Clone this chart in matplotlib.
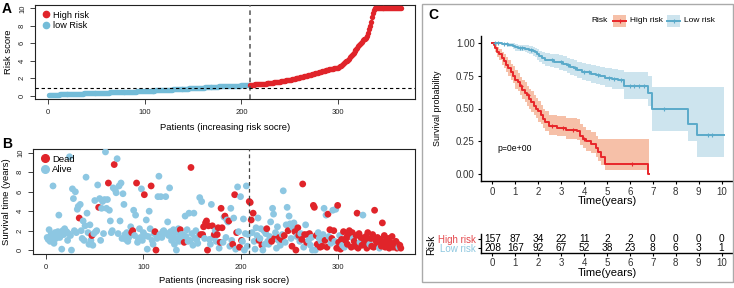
import numpy as np
import matplotlib
matplotlib.use('Agg')
import matplotlib.pyplot as plt
from matplotlib.patches import Rectangle
from matplotlib.lines import Line2D

plt.rcParams['font.family'] = ['Liberation Sans', 'DejaVu Sans']

W, H = 734, 288

# ---- panel A: risk score of each patient (sorted)
risk_low = [
    0.05, 0.06, 0.06, 0.07, 0.08, 0.08, 0.09, 0.10, 0.10, 0.11, 0.11, 0.12, 0.12, 0.13, 0.13, 0.14,
    0.14, 0.15, 0.15, 0.16, 0.16, 0.17, 0.17, 0.18, 0.18, 0.19, 0.19, 0.20, 0.20, 0.21, 0.21, 0.22,
    0.22, 0.22, 0.23, 0.23, 0.24, 0.24, 0.25, 0.25, 0.25, 0.26, 0.26, 0.27, 0.27, 0.28, 0.28, 0.28,
    0.29, 0.29, 0.30, 0.30, 0.30, 0.31, 0.31, 0.32, 0.32, 0.32, 0.33, 0.33, 0.34, 0.34, 0.34, 0.35,
    0.35, 0.35, 0.36, 0.36, 0.37, 0.37, 0.37, 0.38, 0.38, 0.38, 0.39, 0.39, 0.40, 0.40, 0.40, 0.41,
    0.41, 0.42, 0.42, 0.43, 0.43, 0.44, 0.44, 0.45, 0.45, 0.46, 0.46, 0.47, 0.47, 0.48, 0.48, 0.49,
    0.49, 0.50, 0.50, 0.51, 0.52, 0.52, 0.53, 0.53, 0.54, 0.55, 0.55, 0.56, 0.56, 0.57, 0.58, 0.58,
    0.59, 0.60, 0.60, 0.61, 0.62, 0.62, 0.63, 0.64, 0.64, 0.65, 0.66, 0.66, 0.67, 0.68, 0.68, 0.69,
    0.70, 0.70, 0.71, 0.72, 0.72, 0.73, 0.74, 0.74, 0.75, 0.76, 0.76, 0.77, 0.78, 0.78, 0.79, 0.80,
    0.80, 0.81, 0.82, 0.82, 0.83, 0.84, 0.85, 0.85, 0.86, 0.87, 0.87, 0.88, 0.89, 0.90, 0.90, 0.91,
    0.92, 0.93, 0.93, 0.94, 0.95, 0.96, 0.96, 0.97, 0.98, 0.99, 0.99, 1.00, 1.01, 1.02, 1.02, 1.03,
    1.04, 1.04, 1.05, 1.06, 1.06, 1.07, 1.08, 1.08, 1.09, 1.10, 1.10, 1.11, 1.11, 1.12, 1.12, 1.13,
    1.13, 1.14, 1.14, 1.14, 1.15, 1.15, 1.15, 1.16, 1.16, 1.16, 1.17, 1.17, 1.17, 1.18, 1.18, 1.18]
risk_high = [
    1.22, 1.23, 1.24, 1.25, 1.26, 1.27, 1.28, 1.29, 1.30, 1.31, 1.32, 1.33, 1.34, 1.35, 1.36, 1.37,
    1.38, 1.39, 1.41, 1.42, 1.43, 1.45, 1.46, 1.47, 1.49, 1.50, 1.52, 1.53, 1.55, 1.57, 1.59, 1.61,
    1.63, 1.65, 1.67, 1.69, 1.71, 1.73, 1.75, 1.77, 1.80, 1.82, 1.84, 1.86, 1.89, 1.91, 1.93, 1.96,
    1.98, 2.01, 2.03, 2.06, 2.08, 2.11, 2.13, 2.16, 2.19, 2.22, 2.25, 2.28, 2.31, 2.34, 2.37, 2.40,
    2.44, 2.47, 2.51,
    2.54, 2.58, 2.61, 2.64, 2.67, 2.70, 2.73, 2.76, 2.79, 2.82, 2.85, 2.88, 2.91, 2.94, 2.97, 3.00,
    3.03, 3.05, 3.08, 3.10, 3.12, 3.14, 3.16, 3.18, 3.20,
    3.26, 3.34, 3.43, 3.52, 3.62, 3.72, 3.82, 3.92, 4.02, 4.12,
    4.25, 4.38, 4.52, 4.66, 4.80, 4.94, 5.08, 5.22, 5.36, 5.50, 5.64, 5.78,
    5.92, 6.06, 6.20, 6.34, 6.45, 6.55, 6.65, 6.80,
    7.2, 7.6, 8.0, 8.5, 9.0, 9.5, 9.8,
    10.0, 10.0, 10.0, 10.0, 10.0, 10.0, 10.0, 10.0, 10.0, 10.0, 10.0, 10.0, 10.0, 10.0,
    10.0, 10.0, 10.0, 10.0, 10.0, 10.0, 10.0, 10.0, 10.0, 10.0, 10.0, 10.0, 10.0, 10.0]
risk_cutoff = 0.9

# ---- panel B: survival time (years) and status, same patient order
surv_time = [
    1.3, 1.1, 2.1, 0.9, 1.6, 1.4, 6.6, 0.7, 1.8, 1.2, 1.5, 1.9, 3.6, 1.3, 1.7, 0.1, 2.0, 1.6, 2.2, 1.8,
    1.9, 1.0, 1.7, 9.6, 1.5, 0.0, 6.3, 5.3, 2.0, 6.0, 1.8, 4.2, 4.5, 3.3, 4.7, 2.0, 1.2, 3.0, 1.0, 2.5,
    7.5, 3.8, 1.8, 0.6, 2.6, 1.0, 1.5, 0.5, 1.7, 5.1, 1.9, 2.0, 6.7, 4.4, 5.3, 1.0, 4.3, 5.0, 1.7, 5.2,
    10.1, 4.3, 5.2, 6.9, 4.1, 3.0, 1.8, 2.0, 6.4, 8.8, 6.2, 5.9, 9.4, 1.7, 6.6, 3.0, 6.9, 1.2, 5.8, 4.7,
    1.6, 1.1, 1.8, 0.9, 1.3, 1.7, 2.4, 1.8, 2.0, 4.1, 1.5, 3.6, 6.9, 0.8, 1.1, 2.2, 1.3, 6.3, 1.0, 1.8,
    5.7, 1.5, 3.1, 0.1, 1.4, 4.0, 2.2, 6.6, 1.0, 0.6, 1.7, 1.9, 0.0, 1.2, 5.5, 7.6, 1.6, 5.5, 1.3, 1.9,
    2.0, 1.8, 5.5, 1.7, 2.9, 1.5, 6.4, 1.9, 1.0, 1.3, 2.1, 0.6, 1.8, 0.0, 1.2, 2.2, 0.9, 2.1, 1.6, 1.4,
    1.6, 0.8, 3.5, 1.4, 2.1, 0.9, 3.8, 1.0, 8.5, 1.7, 0.5, 3.8, 1.2, 2.0, 1.1, 0.7, 1.5, 5.4, 1.6, 5.0,
    1.6, 2.4, 1.2, 2.8, 3.0, 0.0, 2.5, 1.1, 0.6, 4.7, 2.5, 1.3, 1.6, 2.0, 0.9, 1.6, 2.3, 0.2, 0.8, 4.3,
    2.3, 0.8, 3.4, 3.5, 1.3, 3.1, 2.9, 3.0, 0.4, 4.3, 1.0, 0.6, 3.3, 5.7, 0.1, 1.8, 6.5, 1.9, 0.3, 5.5,
    1.0, 0.9, 3.2, 0.0, 1.7, 6.6, 0.4, 1.6,
    5.0, 4.9, 3.1, 1.8, 3.8, 0.9, 0.1, 2.3, 1.5, 3.3, 1.0, 1.2, 2.2, 0.5, 0.0, 2.0, 0.6, 1.7, 2.2, 0.9,
    0.6, 1.4, 2.9, 0.9, 4.3, 3.7, 1.2, 1.8, 0.2, 2.4, 1.0, 1.3, 0.5, 1.1, 1.6, 6.1, 1.5, 0.8, 2.6, 4.4,
    2.0, 3.5, 2.7, 1.2, 0.4, 2.3, 2.8, 1.9, 0.0, 1.4, 2.3, 1.5, 0.9, 1.7, 1.1, 6.8, 0.3, 1.6, 2.6, 0.8,
    1.6, 1.0, 1.7, 0.5, 1.3, 0.0, 4.6, 4.4, 0.0, 1.5, 0.6, 1.8, 1.2, 0.3, 0.9, 0.4, 1.6, 4.3, 1.0, 3.6,
    0.3, 3.7, 1.4, 2.1, 0.7, 1.2, 4.1, 2.0, 0.9, 4.2, 0.2, 4.6, 0.8, 1.5, 0.1, 1.1, 0.5, 1.9, 0.3, 1.0,
    1.3, 0.6, 1.6, 2.0, 1.4, 0.3, 1.8, 1.2, 0.9, 0.4, 1.5, 3.8, 0.2, 1.7, 0.8, 1.3, 0.5, 3.6, 1.1, 0.7,
    1.4, 0.2, 1.8, 0.9, 0.6, 1.2, 0.4, 1.6, 0.3, 4.1, 1.0, 0.5, 1.3, 0.7, 0.2, 1.1, 0.4, 2.8, 0.8, 1.5,
    0.3, 1.0, 0.6, 1.2, 0.2, 0.8, 0.5, 1.4, 0.3, 0.7, 0.4, 0.9, 0.2, 0.6, 0.3, 0.5, 0.2]
dead = [
    0, 0, 0, 0, 0, 0, 0, 0, 0, 0, 0, 0, 0, 0, 0, 0, 0, 0, 0, 0,
    0, 0, 0, 0, 0, 0, 0, 0, 0, 0, 0, 0, 0, 1, 0, 0, 0, 0, 0, 0,
    0, 0, 0, 0, 0, 0, 1, 0, 0, 0, 0, 0, 0, 1, 0, 0, 0, 0, 0, 0,
    0, 0, 0, 1, 0, 0, 0, 0, 0, 1, 0, 0, 0, 0, 0, 0, 0, 0, 0, 0,
    0, 0, 0, 0, 0, 0, 0, 1, 1, 0, 0, 0, 1, 0, 0, 0, 0, 0, 0, 0,
    1, 0, 0, 0, 0, 0, 0, 1, 0, 0, 0, 1, 1, 0, 0, 0, 0, 0, 0, 0,
    0, 0, 0, 0, 0, 0, 0, 0, 0, 0, 0, 0, 0, 0, 0, 0, 0, 1, 0, 0,
    0, 1, 0, 0, 0, 0, 0, 0, 1, 0, 0, 0, 0, 0, 0, 0, 0, 0, 1, 0,
    1, 1, 0, 1, 1, 1, 1, 0, 0, 0, 1, 0, 1, 0, 0, 1, 1, 0, 1, 1,
    1, 0, 0, 1, 0, 0, 0, 1, 0, 0, 0, 1, 0, 1, 0, 1, 0, 0, 1, 0,
    1, 0, 0, 0, 0, 0, 0, 0,
    1, 1, 1, 0, 1, 0, 0, 0, 0, 0, 1, 0, 0, 1, 0, 0, 0, 0, 1, 0,
    0, 0, 0, 1, 0, 0, 1, 0, 0, 0, 0, 1, 0, 1, 0, 0, 1, 0, 0, 0,
    1, 0, 0, 0, 1, 0, 0, 1, 1, 0, 1, 1, 0, 0, 1, 1, 0, 1, 0, 1,
    1, 0, 1, 0, 0, 0, 1, 1, 0, 1, 1, 0, 0, 1, 0, 1, 0, 0, 1, 0,
    1, 1, 0, 1, 0, 1, 0, 1, 0, 0, 1, 1, 1, 0, 1, 1, 0, 1, 0, 1,
    1, 1, 1, 1, 1, 1, 1, 0, 1, 1, 1, 1, 1, 1, 0, 1, 1, 0, 1, 1,
    1, 1, 1, 1, 0, 1, 1, 1, 1, 1, 1, 1, 1, 1, 0, 1, 1, 1, 1, 1,
    1, 1, 1, 1, 1, 1, 1, 1, 1, 1, 1, 1, 1, 1, 0, 1, 1]

# ---- panel C: Kaplan-Meier curves (step points) with 95% CI
low_t = [0, 0.4, 0.7, 0.9, 1.0, 1.1, 1.4, 1.5, 1.6, 1.75, 1.85, 1.95, 2.05, 2.15, 2.3, 2.5, 2.7, 2.9,
         3.1, 3.25, 3.4, 3.55, 3.7, 3.9, 4.1, 4.3, 4.5, 4.7, 4.9, 5.2, 5.5, 5.75, 6.8, 6.95, 8.55,
         8.95, 10.1]
low_s = [1.0, 0.99, 0.985, 0.975, 0.965, 0.96, 0.955, 0.95, 0.945, 0.935, 0.925, 0.91, 0.895, 0.88,
         0.87, 0.865, 0.855, 0.85, 0.84, 0.83, 0.815, 0.805, 0.795, 0.78, 0.775, 0.765, 0.755, 0.745,
         0.735, 0.725, 0.72, 0.67, 0.62, 0.495, 0.385, 0.30, 0.30]
low_up = [1.0, 1.0, 1.0, 0.995, 0.99, 0.985, 0.985, 0.98, 0.975, 0.97, 0.96, 0.95, 0.94, 0.93, 0.92,
          0.915, 0.91, 0.905, 0.895, 0.885, 0.875, 0.865, 0.855, 0.845, 0.84, 0.83, 0.82, 0.815,
          0.805, 0.80, 0.795, 0.78, 0.75, 0.66, 0.66, 0.66, 0.66]
low_lo = [1.0, 0.98, 0.97, 0.955, 0.94, 0.935, 0.93, 0.92, 0.91, 0.90, 0.89, 0.87, 0.855, 0.84, 0.825,
          0.815, 0.805, 0.795, 0.785, 0.77, 0.755, 0.745, 0.73, 0.715, 0.705, 0.695, 0.685, 0.675,
          0.66, 0.65, 0.645, 0.57, 0.52, 0.33, 0.25, 0.13, 0.13]
low_cens = [0.1, 0.25, 0.5, 0.65, 1.2, 1.3, 1.7, 2.6, 3.0, 3.3, 3.6, 4.0, 4.2, 4.6, 5.1, 5.3, 5.6,
            6.0, 6.2, 6.4, 6.6, 7.5, 9.4, 9.6]

high_t = [0, 0.05, 0.1, 0.2, 0.3, 0.4, 0.5, 0.6, 0.7, 0.8, 0.9, 1.0, 1.1, 1.2, 1.3, 1.4, 1.5, 1.6,
          1.7, 1.8, 1.9, 2.0, 2.1, 2.2, 2.3, 2.45, 2.8, 3.2, 3.7, 3.8, 3.95, 4.1, 4.3, 4.5, 4.6,
          4.75, 4.9, 6.8, 6.82]
high_s = [1.0, 0.98, 0.96, 0.93, 0.91, 0.88, 0.86, 0.83, 0.81, 0.78, 0.75, 0.72, 0.70, 0.67, 0.64,
          0.62, 0.60, 0.57, 0.55, 0.52, 0.50, 0.48, 0.45, 0.42, 0.40, 0.37, 0.355, 0.34, 0.33, 0.29,
          0.27, 0.25, 0.23, 0.20, 0.17, 0.13, 0.08, 0.0, 0.0]
high_up = [1.0, 1.0, 0.99, 0.97, 0.95, 0.93, 0.91, 0.89, 0.87, 0.84, 0.82, 0.79, 0.77, 0.74, 0.72,
           0.70, 0.67, 0.65, 0.63, 0.60, 0.58, 0.56, 0.53, 0.50, 0.48, 0.45, 0.44, 0.43, 0.42, 0.38,
           0.36, 0.34, 0.32, 0.29, 0.27, 0.27, 0.27, 0.27, 0.27]
high_lo = [1.0, 0.96, 0.93, 0.89, 0.87, 0.83, 0.81, 0.78, 0.75, 0.72, 0.69, 0.65, 0.63, 0.60, 0.57,
           0.55, 0.52, 0.50, 0.47, 0.45, 0.43, 0.40, 0.38, 0.35, 0.33, 0.30, 0.29, 0.27, 0.26, 0.22,
           0.20, 0.18, 0.16, 0.13, 0.10, 0.07, 0.03, 0.03, 0.03]
high_cens = [1.25, 1.55, 2.6, 3.1, 3.5, 4.0, 6.1]

table_times = [0, 1, 2, 3, 4, 5, 6, 7, 8, 9, 10]
at_risk_high = [157, 87, 34, 22, 11, 2, 2, 0, 0, 0, 0]
at_risk_low = [208, 167, 92, 67, 52, 38, 23, 8, 6, 3, 1]
p_text = 'p=0e+00'

RED = '#E0242A'
BLUE_A = '#74BCD8'
BLUE_B = '#8DC7E2'
KM_RED = '#E8262A'
KM_BLUE = '#5AAACA'
FILL_RED = '#F6C0A8'
FILL_BLUE = '#CDE4EE'


def box(l, t, r, b):
    return [l / W, 1 - b / H, (r - l) / W, (b - t) / H]


def fx(px):
    return px / W


def fy(py):
    return 1 - py / H


fig = plt.figure(figsize=(W / 100, H / 100), dpi=100)

n_low = len(risk_low)
n_all = n_low + len(risk_high)
pid = np.arange(1, n_all + 1)


def base_style(ax):
    for sp in ax.spines.values():
        sp.set_linewidth(0.8)
        sp.set_color('#222222')
    ax.tick_params(length=3.5, width=0.6, pad=4, labelsize=5.5, colors='#222222')
    ax.tick_params(axis='y', labelrotation=90, pad=3)
    for lab in ax.get_yticklabels():
        lab.set_va('center')
    ax.set_xlim(-13.6, 379.6)
    ax.set_xticks([0, 100, 200, 300])


# A
axA = fig.add_axes(box(35, 5, 415, 99))
axA.scatter(pid[:n_low], risk_low, s=15, color=BLUE_A, lw=0, zorder=3)
axA.scatter(pid[n_low:], risk_high, s=15, color=RED, lw=0, zorder=3)
axA.axvline(n_low + 0.5, color='#555555', ls=(0, (3, 2.5)), lw=1.1, zorder=4)
axA.axhline(risk_cutoff, color='black', ls=(0, (3, 2.5)), lw=0.8, zorder=4)
axA.set_ylim(-0.4, 10.4)
axA.set_yticks([0, 2, 4, 6, 8, 10])
base_style(axA)
axA.set_xlabel('Patients (increasing risk socre)', fontsize=6.8, labelpad=5)
axA.set_ylabel('Risk score', fontsize=6.8, labelpad=4)
axA.legend(handles=[Line2D([], [], ls='', marker='o', ms=4.5, color=RED, label='High risk'),
                    Line2D([], [], ls='', marker='o', ms=4.5, color=BLUE_A, label='low Risk')],
           loc='upper left', frameon=False, fontsize=6.6, handletextpad=0.1,
           borderaxespad=0.2, labelspacing=0.2, handlelength=1.3)

# B
axB = fig.add_axes(box(33, 149, 415, 254))
cols = [RED if d else BLUE_B for d in dead]
axB.scatter(pid, surv_time, s=24, c=cols, lw=0, zorder=3)
axB.axvline(n_low + 0.5, color='#444444', ls=(0, (3, 2.5)), lw=0.9, zorder=4)
axB.set_ylim(-0.4, 10.4)
axB.set_yticks([0, 2, 4, 6, 8, 10])
base_style(axB)
axB.set_xlabel('Patients (increasing risk socre)', fontsize=6.8, labelpad=3)
axB.set_ylabel('Survival time (years)', fontsize=6.8, labelpad=4)
axB.legend(handles=[Line2D([], [], ls='', marker='o', ms=5.5, color=RED, label='Dead'),
                    Line2D([], [], ls='', marker='o', ms=5.5, color=BLUE_B, label='Alive')],
           loc='upper left', frameon=False, fontsize=6.8, handletextpad=0.1,
           borderaxespad=0.2, labelspacing=0.15, handlelength=1.3)

fig.text(fx(2), fy(9), 'A', fontsize=10, fontweight='bold', va='center')
fig.text(fx(2), fy(144), 'B', fontsize=10, fontweight='bold', va='center')

# C frame
fig.add_artist(Rectangle((fx(422), fy(282)), (733 - 422) / W, (282 - 4) / H,
                         transform=fig.transFigure, fill=False, ec='#AAAAAA', lw=1))
fig.text(fx(428), fy(15), 'C', fontsize=10, fontweight='bold', va='center')

# C KM plot
axC = fig.add_axes(box(481, 36, 733, 181))
axC.fill_between(low_t, low_lo, low_up, step='post', color=FILL_BLUE, lw=0)
axC.fill_between(high_t, high_lo, high_up, step='post', color=FILL_RED, lw=0)
axC.step(low_t, low_s, where='post', color=KM_BLUE, lw=1.4)
axC.step(high_t, high_s, where='post', color=KM_RED, lw=1.4)
for ct, tt, ss, col in [(low_cens, low_t, low_s, KM_BLUE), (high_cens, high_t, high_s, KM_RED)]:
    k = np.searchsorted(tt, ct, side='right') - 1
    axC.plot(ct, np.array(ss)[k], ls='', marker='+', ms=3.5, mew=0.8, color=col)
axC.text(0.2, 0.2, p_text, fontsize=6.2, va='center')
axC.set_xlim(-0.5, 10.5)
axC.set_ylim(-0.05, 1.05)
axC.set_xticks(table_times)
axC.set_yticks([0, 0.25, 0.5, 0.75, 1.0])
axC.set_yticklabels(['0.00', '0.25', '0.50', '0.75', '1.00'])
for s in ['top', 'right']:
    axC.spines[s].set_visible(False)
for s in ['left', 'bottom']:
    axC.spines[s].set_linewidth(1)
axC.tick_params(length=2.5, width=0.8, pad=2, labelsize=7, labelcolor='#333333')
axC.set_xlabel('Time(years)', fontsize=8, labelpad=-1)
axC.set_ylabel('Survival probability', fontsize=6.4, labelpad=10)

# C legend
fig.text(fx(591), fy(21), 'Risk', fontsize=6, va='center')
for x0, col, fill, lab in [(613, KM_RED, FILL_RED, 'High risk'), (667, KM_BLUE, FILL_BLUE, 'Low risk')]:
    fig.add_artist(Rectangle((fx(x0), fy(27)), 13 / W, 12 / H, transform=fig.transFigure,
                             color=fill, lw=0))
    fig.add_artist(Line2D([fx(x0), fx(x0 + 13)], [fy(21), fy(21)], transform=fig.transFigure,
                          color=col, lw=1.4))
    fig.add_artist(Line2D([fx(x0 + 6.5)], [fy(21)], transform=fig.transFigure, ls='',
                          marker='+', ms=3.5, mew=0.8, color=col))
    fig.text(fx(x0 + 17), fy(21), lab, fontsize=6, va='center')

# C risk table
axT = fig.add_axes(box(481, 234, 733, 253))
axT.set_xlim(-0.5, 10.5)
axT.set_ylim(-0.5, 1.6)
for t, hi, lo in zip(table_times, at_risk_high, at_risk_low):
    axT.text(t, 1, str(hi), ha='center', va='center', fontsize=7.3)
    axT.text(t, 0, str(lo), ha='center', va='center', fontsize=7.3)
axT.set_xticks(table_times)
axT.set_yticks([1, 0])
for s in ['top', 'right']:
    axT.spines[s].set_visible(False)
for s in ['left', 'bottom']:
    axT.spines[s].set_linewidth(1)
axT.tick_params(length=2.5, width=0.8, pad=1, labelsize=7, labelcolor='#333333')
axT.tick_params(axis='y', labelsize=7, pad=1)
axT.set_yticklabels(['High risk', 'Low risk'])
axT.get_yticklabels()[0].set_color('#E4484C')
axT.get_yticklabels()[1].set_color('#8EC8E0')
axT.set_xlabel('Time(years)', fontsize=8, labelpad=0)
fig.text(fx(431), fy(245), 'Risk', fontsize=7.5, rotation=90, va='center', ha='center')

fig.savefig('out.png', dpi=100)
